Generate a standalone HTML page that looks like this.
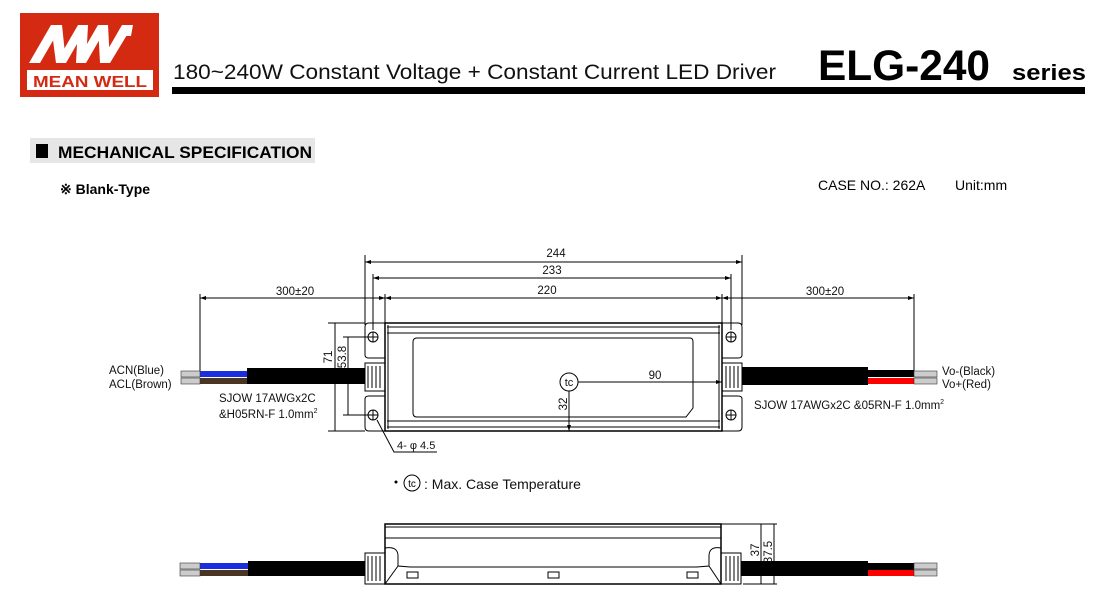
<!DOCTYPE html>
<html><head><meta charset="utf-8"><style>
html,body{margin:0;padding:0;background:#fff;}
svg{display:block;font-family:"Liberation Sans",sans-serif;}
</style></head><body>
<svg width="1100" height="604" viewBox="0 0 1100 604" xmlns="http://www.w3.org/2000/svg">
<!-- Logo -->
<rect x="20" y="13" width="139" height="84" fill="#d42a12"/>
<g fill="#fff">
<polygon points="29,63 40,63 62,25 51,25"/>
<polygon points="51,25 62,25 66,63 56,63"/>
<polygon points="56,63 66,63 88,25 78,25"/>
<polygon points="78,25 88,25 86,63 76,63"/>
<polygon points="76,63 86,63 108,25 98,25"/>
<polygon points="98,25 108,25 110,63 100,63"/>
<polygon points="100,63 110,63 133,25 122,25"/>
<polygon points="122,25 133,25 131,36 124,36"/>
</g>
<rect x="27" y="70" width="126" height="20" fill="#fff"/>
<text x="90" y="87" font-size="16" font-weight="bold" fill="#d42a12" text-anchor="middle" textLength="114" lengthAdjust="spacingAndGlyphs">MEAN WELL</text>
<!-- Header -->
<text x="173" y="79" font-size="21" fill="#111" textLength="603" lengthAdjust="spacingAndGlyphs">180~240W Constant Voltage + Constant Current LED Driver</text>
<text transform="translate(818,80) scale(1,1.12)" font-size="38" font-weight="bold" fill="#000" textLength="172" lengthAdjust="spacingAndGlyphs">ELG-240</text>
<text x="1012" y="80" font-size="22" font-weight="bold" fill="#000" textLength="74" lengthAdjust="spacingAndGlyphs">series</text>
<rect x="172" y="87" width="913" height="7" fill="#000"/>
<!-- Section -->
<rect x="30" y="138" width="285" height="25" fill="#e6e6e6"/>
<rect x="36" y="144" width="12" height="14" fill="#000"/>
<text x="58" y="158" font-size="17" font-weight="bold" fill="#000" textLength="254" lengthAdjust="spacingAndGlyphs">MECHANICAL SPECIFICATION</text>
<text x="60" y="194" font-size="14" font-weight="bold" fill="#000">※ Blank-Type</text>
<text x="818" y="190" font-size="14" fill="#000">CASE NO.: 262A</text>
<text x="955" y="190" font-size="14" fill="#000">Unit:mm</text>

<g stroke="#000" fill="none" stroke-width="1">
<line x1="365" y1="262" x2="742" y2="262"/>
<line x1="373" y1="278" x2="731" y2="278"/>
<line x1="200" y1="298" x2="914" y2="298"/>
<line x1="365" y1="255" x2="365" y2="325"/>
<line x1="742" y1="255" x2="742" y2="325"/>
<line x1="373" y1="274" x2="373" y2="330"/>
<line x1="731" y1="274" x2="731" y2="330"/>
<line x1="385" y1="294" x2="385" y2="323"/>
<line x1="722" y1="294" x2="722" y2="323"/>
<line x1="200" y1="294" x2="200" y2="372"/>
<line x1="914" y1="294" x2="914" y2="372"/>
<rect x="385" y="323" width="337" height="108" stroke-width="1.5"/>
<line x1="387" y1="327" x2="720" y2="327"/>
<line x1="387" y1="333" x2="720" y2="333"/>
<line x1="387" y1="421" x2="720" y2="421"/>
<line x1="387" y1="427" x2="720" y2="427"/>
<line x1="388" y1="325" x2="388" y2="429"/>
<line x1="719" y1="325" x2="719" y2="429"/>
<path d="M417,338 H690 Q693,338 693,342 V408 L686,417 H417 Q413,417 413,413 V342 Q413,338 417,338 Z"/>
<path d="M385,323 H369 Q365,323 365,327 V355 Q365,358 369,358 H385"/>
<path d="M385,396 H369 Q365,396 365,399 V427 Q365,431 369,431 H385"/>
<path d="M722,323 H738 Q742,323 742,327 V355 Q742,358 738,358 H722"/>
<path d="M722,396 H738 Q742,396 742,399 V427 Q742,431 738,431 H722"/>
<rect x="365" y="363" width="20" height="28"/>
<rect x="722" y="363" width="20" height="28"/>
<circle cx="373" cy="337" r="5"/><line x1="368" y1="337" x2="378" y2="337"/><line x1="373" y1="332" x2="373" y2="342"/>
<circle cx="373" cy="415" r="5"/><line x1="368" y1="415" x2="378" y2="415"/><line x1="373" y1="410" x2="373" y2="420"/>
<circle cx="731" cy="337" r="5"/><line x1="726" y1="337" x2="736" y2="337"/><line x1="731" y1="332" x2="731" y2="342"/>
<circle cx="731" cy="415" r="5"/><line x1="726" y1="415" x2="736" y2="415"/><line x1="731" y1="410" x2="731" y2="420"/>
<circle cx="569" cy="382" r="9"/>
<line x1="578" y1="382" x2="722" y2="382"/>
<line x1="569" y1="391" x2="569" y2="431"/>
<line x1="335" y1="323" x2="335" y2="431"/>
<line x1="328" y1="323" x2="365" y2="323"/>
<line x1="328" y1="431" x2="365" y2="431"/>
<line x1="348" y1="337" x2="348" y2="415"/>
<line x1="343" y1="337" x2="370" y2="337"/>
<line x1="343" y1="415" x2="370" y2="415"/>
<polyline points="377,420 394,452 437,452"/>
<rect x="385" y="524" width="336" height="60" stroke-width="1.5"/>
<line x1="385" y1="527" x2="721" y2="527"/>
<line x1="385" y1="538" x2="721" y2="538"/>
<path d="M385,548 Q398,546 398,556 V566 L410,567 H697 L709,566 V556 Q709,546 721,548"/>
<line x1="398" y1="566" x2="385" y2="584"/>
<line x1="709" y1="566" x2="721" y2="584"/>
<rect x="407" y="572" width="11" height="6"/>
<rect x="548" y="572" width="11" height="6"/>
<rect x="687" y="572" width="11" height="6"/>
<rect x="365" y="553" width="20" height="31"/>
<rect x="721" y="553" width="20" height="31"/>
<line x1="761" y1="524" x2="761" y2="584"/>
<line x1="774" y1="524" x2="774" y2="584"/>
<line x1="721" y1="524" x2="777" y2="524"/>
<line x1="743" y1="584" x2="777" y2="584"/>
</g>
<g stroke="#000" stroke-width="1">
<path d="M368,366 v22 M372,366 v22 M376,366 v22 M380,366 v22"/>
<path d="M726,366 v22 M730,366 v22 M734,366 v22 M738,366 v22"/>
<path d="M368,556 v25 M372,556 v25 M376,556 v25 M380,556 v25"/>
<path d="M726,556 v25 M730,556 v25 M734,556 v25 M738,556 v25"/>
</g>
<g fill="#000">
<path d="M365,262 l6,-2 v4z M742,262 l-6,-2 v4z"/>
<path d="M373,278 l6,-2 v4z M731,278 l-6,-2 v4z"/>
<path d="M385,298 l6,-2 v4z M722,298 l-6,-2 v4z M385,298 l-6,-2 v4z M722,298 l6,-2 v4z"/>
<path d="M200,298 l6,-2 v4z M914,298 l-6,-2 v4z"/>
<path d="M722,382 l-6,-2 v4z M569,431 l-2,-6 h4z"/>
</g>
<rect x="247" y="368" width="118" height="16" fill="#000"/>
<rect x="200" y="371" width="47" height="6" fill="#1a2ee0"/>
<rect x="200" y="378" width="47" height="6" fill="#4a3424"/>
<rect x="181" y="371" width="19" height="6" fill="#ccc" stroke="#333" stroke-width="0.6"/>
<rect x="181" y="378" width="19" height="6" fill="#ccc" stroke="#333" stroke-width="0.6"/>
<rect x="742" y="367" width="126" height="18" fill="#000"/>
<rect x="868" y="370" width="46" height="7" fill="#000"/>
<rect x="868" y="378" width="46" height="6" fill="#f00"/>
<rect x="914" y="371" width="23" height="6" fill="#ccc" stroke="#333" stroke-width="0.6"/>
<rect x="914" y="378" width="23" height="6" fill="#ccc" stroke="#333" stroke-width="0.6"/>
<rect x="248" y="561" width="117" height="15" fill="#000"/>
<rect x="200" y="563" width="48" height="6" fill="#1a2ee0"/>
<rect x="200" y="570" width="48" height="6" fill="#4a3424"/>
<rect x="180" y="563" width="20" height="6" fill="#ccc" stroke="#333" stroke-width="0.6"/>
<rect x="180" y="570" width="20" height="6" fill="#ccc" stroke="#333" stroke-width="0.6"/>
<rect x="741" y="561" width="127" height="15" fill="#000"/>
<rect x="868" y="563" width="46" height="7" fill="#000"/>
<rect x="868" y="570" width="46" height="6" fill="#f00"/>
<rect x="914" y="563" width="23" height="6" fill="#ccc" stroke="#333" stroke-width="0.6"/>
<rect x="914" y="570" width="23" height="6" fill="#ccc" stroke="#333" stroke-width="0.6"/>
<g font-size="11.5" fill="#111">
<text x="556" y="257" text-anchor="middle">244</text>
<text x="552" y="274" text-anchor="middle">233</text>
<text x="547" y="294" text-anchor="middle">220</text>
<text x="295" y="295" text-anchor="middle">300±20</text>
<text x="825" y="295" text-anchor="middle">300±20</text>
<text x="655" y="379" text-anchor="middle">90</text>
<text x="569" y="386" text-anchor="middle" font-size="11">tc</text>
<text transform="translate(567,404) rotate(-90)" text-anchor="middle">32</text>
<text transform="translate(332,357) rotate(-90)" text-anchor="middle">71</text>
<text transform="translate(346,357) rotate(-90)" text-anchor="middle">53.8</text>
<text transform="translate(759,550) rotate(-90)" text-anchor="middle">37</text>
<text transform="translate(772,552) rotate(-90)" text-anchor="middle">37.5</text>
<text x="109" y="374">ACN(Blue)</text>
<text x="109" y="388">ACL(Brown)</text>
<text x="219" y="402">SJOW 17AWGx2C</text>
<text x="219" y="418">&amp;H05RN-F 1.0mm<tspan font-size="7" dy="-5">2</tspan></text>
<text x="942" y="375">Vo-(Black)</text>
<text x="942" y="388">Vo+(Red)</text>
<text x="754" y="409">SJOW 17AWGx2C &amp;05RN-F 1.0mm<tspan font-size="7" dy="-5">2</tspan></text>
<text x="397" y="449" font-size="11">4- φ 4.5</text>
</g>
<circle cx="396" cy="482" r="1.5" fill="#000"/>
<circle cx="412" cy="483" r="8" fill="none" stroke="#000"/>
<text x="412" y="487" font-size="10" text-anchor="middle">tc</text>
<text x="424" y="489" font-size="14" fill="#111">: Max. Case Temperature</text>
</svg>
</body></html>
